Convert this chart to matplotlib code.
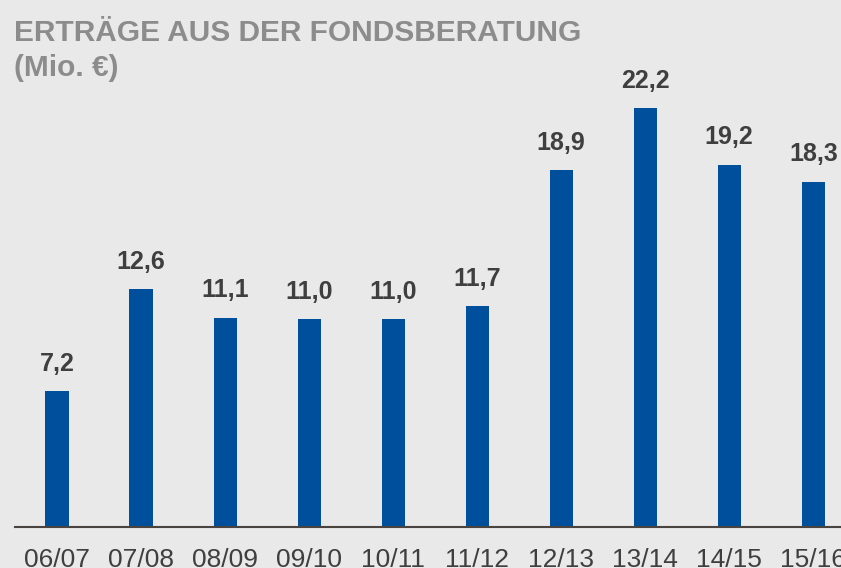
import matplotlib
matplotlib.use("Agg")
import matplotlib.pyplot as plt
from matplotlib import font_manager

periods = ["06/07", "07/08", "08/09", "09/10", "10/11", "11/12", "12/13", "13/14", "14/15", "15/16"]
values = [7.2, 12.6, 11.1, 11.0, 11.0, 11.7, 18.9, 22.2, 19.2, 18.3]

BG = "#e9e9e9"
BAR = "#004f9c"
TXT = "#3f3f3f"
TITLE = "#8c8c8c"

names = {f.name for f in font_manager.fontManager.ttflist}
FONT = "Liberation Sans Narrow" if "Liberation Sans Narrow" in names else "Liberation Sans"

fig = plt.figure(figsize=(8.41, 5.68), dpi=100, facecolor=BG)
ax = fig.add_axes([15 / 841, 41 / 568, 1 - 15 / 841, 527 / 568])
ax.set_facecolor(BG)

x = list(range(len(values)))
ax.bar(x, values, width=0.275, color=BAR, zorder=2)
for xi, v in zip(x, values):
    ax.annotate(f"{v:.1f}".replace(".", ","), (xi, v), xytext=(0, 11), textcoords="offset points",
                ha="center", va="bottom", fontsize=18, fontweight="bold", color=TXT, family=FONT)

ax.set_xlim(-0.5, 9.33)
ax.set_ylim(0, 27.93)
ax.set_xticks(x)
ax.set_xticklabels(periods, fontsize=19, color=TXT, family=FONT)
ax.tick_params(axis="x", length=0, pad=15)
ax.set_yticks([])
for s in ["top", "right", "left"]:
    ax.spines[s].set_visible(False)
ax.spines["bottom"].set_color("#4a4440")
ax.spines["bottom"].set_linewidth(1.5)

fig.text(14 / 841, 1 - 41 / 568, "ERTRÄGE AUS DER FONDSBERATUNG", ha="left", va="baseline",
         fontsize=21.5, fontweight="bold", color=TITLE, family=FONT)
fig.text(14 / 841, 1 - 76 / 568, "(Mio. €)", ha="left", va="baseline",
         fontsize=21.5, fontweight="bold", color=TITLE, family=FONT)

fig.savefig("out.png", dpi=100, facecolor=BG)
